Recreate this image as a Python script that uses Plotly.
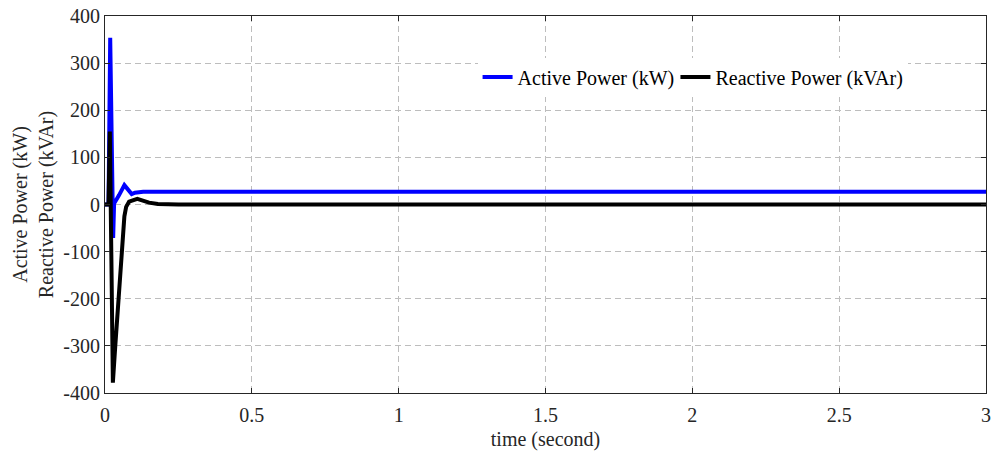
import plotly.graph_objects as go

# Active power (kW) key points
t_active = [0.0, 0.012, 0.0177, 0.0278, 0.031, 0.039, 0.048, 0.066, 0.080, 0.091, 0.102, 0.13, 3.0]
p_active = [0.0, 0.0, 354.0, -71.0, 2.0, 9.0, 20.0, 41.0, 31.0, 22.0, 25.0, 27.0, 27.0]

# Reactive power (kVAr) key points
t_reactive = [0.0, 0.012, 0.0165, 0.0268, 0.035, 0.047, 0.058, 0.066, 0.072, 0.082, 0.11, 0.15, 0.18, 0.25, 3.0]
q_reactive = [0.0, 0.0, 155.0, -378.0, -300.0, -185.0, -75.0, -25.0, -5.0, 6.0, 12.0, 4.0, 1.0, 0.0, 0.0]

x_ticks = [0, 0.5, 1, 1.5, 2, 2.5, 3]
x_tick_text = ["0", "0.5", "1", "1.5", "2", "2.5", "3"]
y_ticks = [-400, -300, -200, -100, 0, 100, 200, 300, 400]
y_tick_text = ["-400", "-300", "-200", "-100", "0", "100", "200", "300", "400"]

FONT = "Liberation Serif"

fig = go.Figure()
fig.add_trace(go.Scatter(x=t_active, y=p_active, mode="lines", name="Active Power (kW)",
                         line=dict(color="#0000ff", width=4), legend="legend"))
fig.add_trace(go.Scatter(x=t_reactive, y=q_reactive, mode="lines", name="Reactive Power (kVAr)",
                         line=dict(color="#000000", width=4), legend="legend2"))

axis_common = dict(
    showline=True, linecolor="#262626", linewidth=1, mirror="ticks",
    ticks="inside", ticklen=5, tickcolor="#262626", tickwidth=1,
    showgrid=True, gridcolor="#bdbdbd", gridwidth=1, griddash="6px,4px",
    zeroline=False, automargin=False,
)

fig.update_xaxes(range=[0, 3], tickvals=x_ticks, ticktext=x_tick_text,
                 tickfont=dict(family=FONT, size=20, color="#262626"), ticklabelstandoff=4,
                 title=dict(text="time (second)", font=dict(family=FONT, size=20, color="#262626"), standoff=16),
                 **axis_common)
fig.update_yaxes(range=[-400, 400], tickvals=y_ticks, ticktext=y_tick_text,
                 tickfont=dict(family=FONT, size=20, color="#262626"),
                 title=dict(text="Active Power (kW)<br>Reactive Power (kVAr)",
                            font=dict(family=FONT, size=20, color="#262626"), standoff=4),
                 **axis_common)

legend_common = dict(orientation="h", xanchor="left", y=0.838, yanchor="middle",
                     bgcolor="white", borderwidth=0,
                     font=dict(family=FONT, size=20, color="#000000"), itemwidth=30)

fig.update_layout(
    width=992, height=451,
    margin=dict(l=104.5, r=6, t=16, b=58, autoexpand=False),
    paper_bgcolor="white", plot_bgcolor="white",
    font=dict(family=FONT, size=20, color="#000000"),
    showlegend=True,
    legend=dict(x=0.4229, **legend_common),
    legend2=dict(x=0.6475, **legend_common),
)

fig.write_html("out.html")
